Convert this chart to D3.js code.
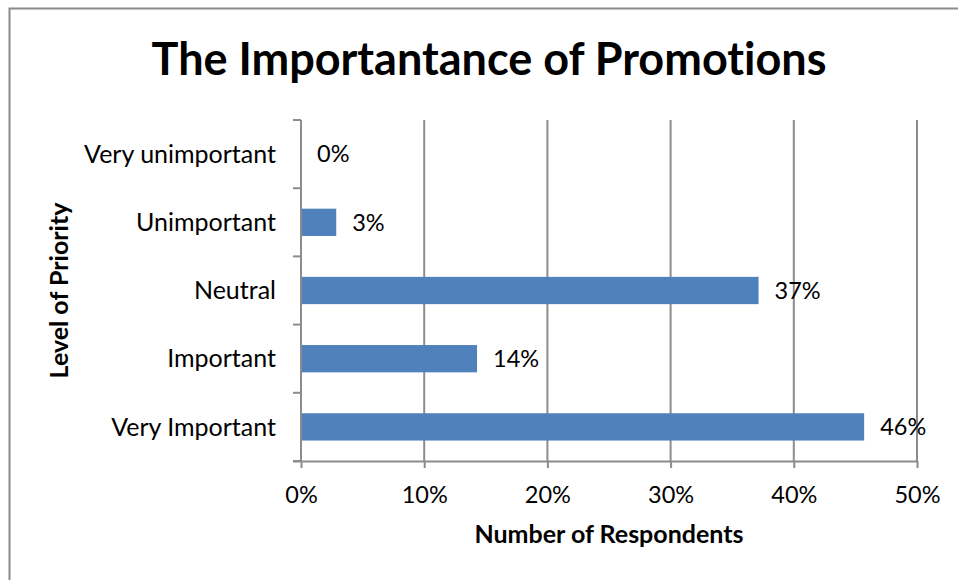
<!DOCTYPE html>
<html>
<head>
<meta charset="utf-8">
<script src="https://cdn.jsdelivr.net/npm/d3@7/dist/d3.min.js"></script>
<style>
  html, body { margin: 0; padding: 0; background: #fff; }
  svg { display: block; font-family: Lato, "Open Sans", sans-serif; font-variant-ligatures: none; }
</style>
</head>
<body>
<svg id="chart" width="958" height="580"></svg>
<script>
// Survey answers: share of respondents by priority level
const categories = ["Very unimportant", "Unimportant", "Neutral", "Important", "Very Important"];
const shares = [0, 0.0286, 0.3714, 0.1429, 0.4571];
const xTicks = [0, 0.1, 0.2, 0.3, 0.4, 0.5];

const chartTitle = "The Importantance of Promotions";
const xTitle = "Number of Respondents";
const yTitle = "Level of Priority";

const svg = d3.select("#chart");
const W = 958, H = 580;
const plot = { left: 301, right: 917, top: 120, bottom: 461 };
const gridColor = "#8c8c8c";
const barColor = "#4f81bd";
const fontFamily = "Lato, 'Open Sans', sans-serif";

// chart frame (left and top edges visible)
svg.append("path")
  .attr("d", `M9.5,${H} V8.5 H${W}`)
  .attr("fill", "none")
  .attr("stroke", "#8a8a8a")
  .attr("stroke-width", 2);

const x = d3.scaleLinear().domain([0, 0.5]).range([plot.left, plot.right]);
const y = d3.scaleBand().domain(categories).range([plot.top, plot.bottom]).paddingInner(0.6).paddingOuter(0.3);
const yFull = d3.scaleBand().domain(categories).range([plot.top, plot.bottom]);

// vertical gridlines
svg.append("g").selectAll("line")
  .data(xTicks.slice(1))
  .join("line")
  .attr("x1", d => x(d)).attr("x2", d => x(d))
  .attr("y1", plot.top).attr("y2", plot.bottom)
  .attr("stroke", gridColor).attr("stroke-width", 2);

// bars
svg.append("g").selectAll("rect")
  .data(shares)
  .join("rect")
  .attr("x", x(0))
  .attr("y", (d, i) => y(categories[i]))
  .attr("width", d => x(d) - x(0))
  .attr("height", y.bandwidth())
  .attr("fill", barColor);

// x axis
const xAxis = d3.axisBottom(x)
  .tickValues(xTicks)
  .tickFormat(d3.format(".0%"))
  .tickSize(7)
  .tickSizeOuter(0);
const gx = svg.append("g").attr("transform", `translate(0,${plot.bottom})`).call(xAxis);
gx.select(".domain").attr("d", `M${plot.left - 8},0.5H${plot.right}`).attr("stroke", gridColor).attr("stroke-width", 2);
gx.selectAll(".tick line").attr("stroke", gridColor).attr("stroke-width", 2);
gx.selectAll(".tick text")
  .attr("y", 42).attr("dy", 0)
  .attr("font-size", 23.5).attr("fill", "#000")
  .attr("font-family", fontFamily);

// y axis: tick marks sit on category boundaries
const gy = svg.append("g");
gy.append("line")
  .attr("x1", plot.left).attr("x2", plot.left)
  .attr("y1", plot.top).attr("y2", plot.bottom)
  .attr("stroke", gridColor).attr("stroke-width", 2);
const bounds = categories.map(c => yFull(c)).concat([plot.bottom]);
gy.selectAll("line.tick")
  .data(bounds)
  .join("line")
  .attr("class", "tick")
  .attr("x1", plot.left - 8).attr("x2", plot.left)
  .attr("y1", d => d).attr("y2", d => d)
  .attr("stroke", gridColor).attr("stroke-width", 2);
gy.selectAll("text")
  .data(categories)
  .join("text")
  .attr("x", plot.left - 25)
  .attr("y", d => yFull(d) + yFull.bandwidth() / 2)
  .attr("dy", "0.35em")
  .attr("text-anchor", "end")
  .attr("font-size", 25)
  .text(d => d);

// value labels
const fmt = d3.format(".0%");
svg.append("g").selectAll("text")
  .data(shares)
  .join("text")
  .attr("x", d => x(d) + 16)
  .attr("y", (d, i) => yFull(categories[i]) + yFull.bandwidth() / 2)
  .attr("dy", "0.35em")
  .attr("font-size", 23.5)
  .text(d => fmt(d));

// titles
svg.append("text")
  .attr("x", 489).attr("y", 75)
  .attr("text-anchor", "middle")
  .attr("font-size", 45).attr("font-weight", "bold")
  .text(chartTitle);

svg.append("text")
  .attr("x", (plot.left + plot.right) / 2).attr("y", 543)
  .attr("text-anchor", "middle")
  .attr("font-size", 25).attr("font-weight", "bold")
  .text(xTitle);

svg.append("text")
  .attr("transform", `translate(68,${(plot.top + plot.bottom) / 2}) rotate(-90)`)
  .attr("text-anchor", "middle")
  .attr("font-size", 25).attr("font-weight", "bold")
  .text(yTitle);
</script>
</body>
</html>
